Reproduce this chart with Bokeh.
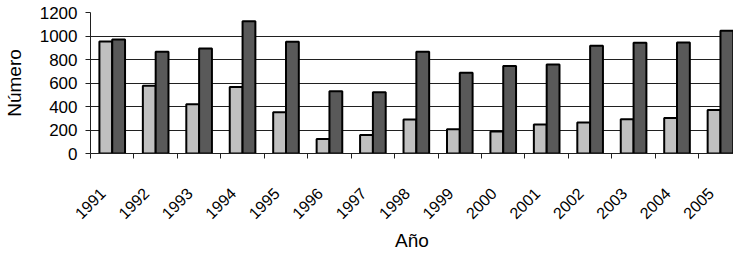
import math
import numpy as np
from bokeh.plotting import figure
from bokeh.models import (ColumnDataSource, Range1d, FixedTicker, Legend, LegendItem, Grid)
from bokeh.embed import file_html
from bokeh.resources import INLINE

years = ["1991", "1992", "1993", "1994", "1995", "1996", "1997", "1998",
         "1999", "2000", "2001", "2002", "2003", "2004", "2005"]
incendios = [953, 577, 419, 566, 351, 124, 158, 289, 206, 187, 246, 263, 291, 302, 370]
conatos = [971, 866, 894, 1126, 951, 529, 521, 866, 688, 744, 758, 917, 943, 945, 1045]
y_ticks = [0, 200, 400, 600, 800, 1000, 1200]
series_names = ["Incendios", "Conatos"]
series_colors = ["#C0C0C0", "#595959"]

FONT = "Liberation Sans"
bar_w = 0.295
label_shift = 0.22
idx = np.arange(len(years))
centers = idx + 0.5

src = ColumnDataSource(dict(
    x_inc=centers - bar_w / 2,
    x_con=centers + bar_w / 2,
    inc=incendios,
    con=conatos,
))

p = figure(frame_width=643, frame_height=141, output_backend="svg", toolbar_location=None,
           x_range=Range1d(0, 14.8), y_range=Range1d(y_ticks[0], y_ticks[-1]),
           min_border_left=84, min_border_right=0, min_border_top=12,
           min_border_bottom=111)
p.outline_line_color = None
p.background_fill_color = "white"
p.border_fill_color = "white"

r1 = p.vbar(x="x_inc", top="inc", width=bar_w, source=src,
            fill_color=series_colors[0], line_color="black", line_width=2)
r2 = p.vbar(x="x_con", top="con", width=bar_w, source=src,
            fill_color=series_colors[1], line_color="black", line_width=2)

# x axis: labels near category centres, tick marks at boundaries (minor ticks)
label_pos = centers - label_shift
xa = p.xaxis[0]
xa.ticker = FixedTicker(ticks=list(label_pos), minor_ticks=list(idx) + [len(years)])
xa.major_label_overrides = {float(c): y for c, y in zip(label_pos, years)}
xa.major_tick_line_color = None
xa.minor_tick_out = 5
xa.minor_tick_in = 0
xa.minor_tick_line_color = "#202020"
xa.axis_line_color = "#202020"
xa.major_label_orientation = math.pi / 4
xa.major_label_text_font = FONT
xa.major_label_text_font_size = "16px"
xa.major_label_text_color = "black"
xa.major_label_standoff = 31
xa.axis_label = "Año"
xa.axis_label_text_font = FONT
xa.axis_label_text_font_size = "19px"
xa.axis_label_text_font_style = "normal"
xa.axis_label_text_color = "black"
xa.axis_label_standoff = 3

ya = p.yaxis[0]
ya.ticker = FixedTicker(ticks=y_ticks)
ya.minor_tick_line_color = None
ya.major_tick_out = 5
ya.major_tick_in = 0
ya.major_tick_line_color = "#202020"
ya.axis_line_color = "#202020"
ya.major_label_text_font = FONT
ya.major_label_text_font_size = "17px"
ya.major_label_text_color = "black"
ya.major_label_standoff = 8
ya.axis_label = "Número"
ya.axis_label_text_font = FONT
ya.axis_label_text_font_size = "19px"
ya.axis_label_text_font_style = "normal"
ya.axis_label_text_color = "black"
ya.axis_label_standoff = 12

p.xgrid.visible = False
p.ygrid[0].ticker = FixedTicker(ticks=y_ticks[1:-1])
p.ygrid[0].grid_line_color = "#202020"
p.ygrid[0].grid_line_width = 1
top_grid = Grid(dimension=1, ticker=FixedTicker(ticks=y_ticks[-1:]),
                grid_line_color="#999999", grid_line_width=1.5)
p.add_layout(top_grid)

legend = Legend(items=[LegendItem(label=series_names[0], renderers=[r1]),
                       LegendItem(label=series_names[1], renderers=[r2])],
                orientation="horizontal", location=(236, -110),
                label_text_font=FONT, label_text_font_size="17px",
                label_text_color="black", label_height=14,
                glyph_width=10, glyph_height=10, label_standoff=3, spacing=8,
                padding=0, margin=0, border_line_color=None,
                background_fill_alpha=0)
p.add_layout(legend, "center")

open("out.html", "w").write(file_html(p, INLINE))
